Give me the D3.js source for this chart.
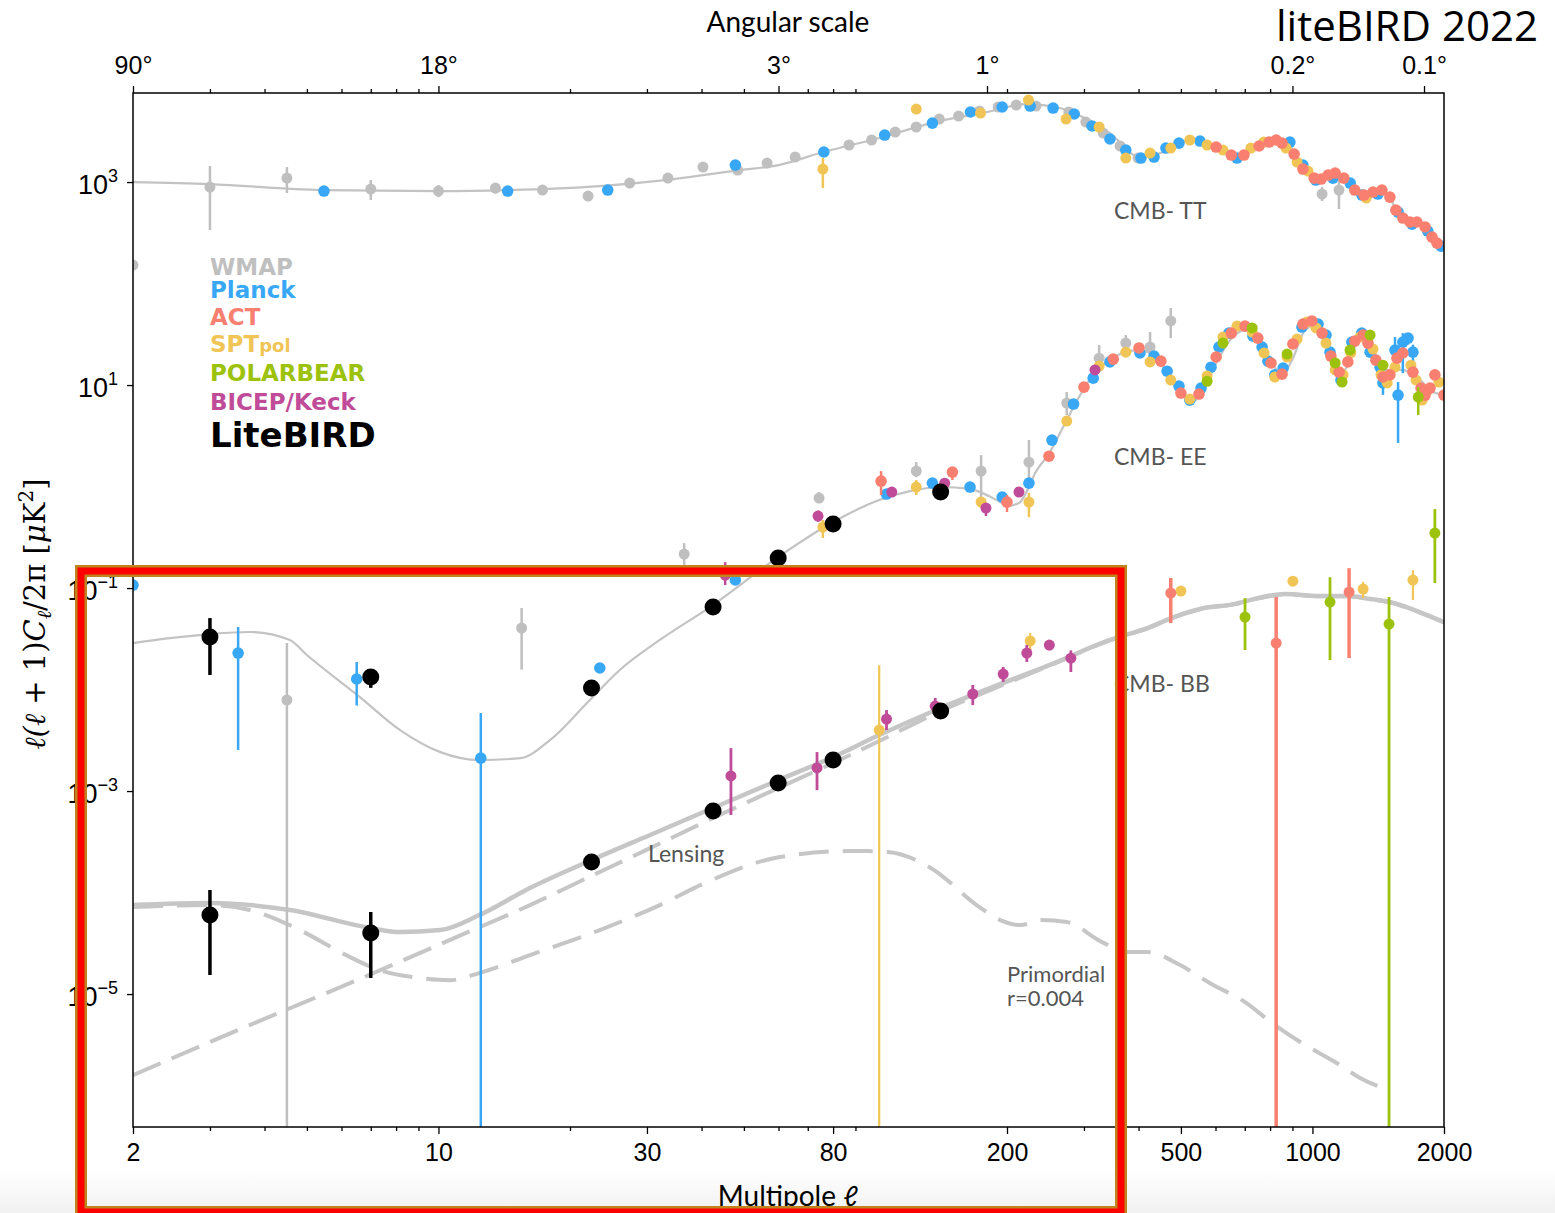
<!DOCTYPE html>
<html>
<head>
<meta charset="utf-8">
<script src="https://cdn.jsdelivr.net/npm/d3@7"></script>
<style>
body{margin:0;background:#fff}
svg{display:block}
</style>
</head>
<body>
<div id="chart"></div>
<script>
// ---- theory curves (multipole l, D_l in uK^2) ----
var tt_l=[2,3,5.4,10,14.4,23.4,33,49,60,76,102,137,180,222,264,301,344,403,460,524,600,672,760,830,880,908,951,1009,1047,1127,1180,1250,1312,1376,1430,1504,1552,1610,1672,1734,1810,1878,1928,2000];
var tt_D=[1000,955,834,815,834,913,1046,1313,1470,1975,2713,3900,4890,5870,5360,4270,3040,1763,2000,2590,2300,1845,2150,2590,2450,1900,1343,1094,1071,1227,1094,834,745,797,834,711,530,442,404,404,361,287,250,230];

var ee_l=[2,2.43,3,3.7,4.57,5,6.61,8.17,10.1,12.4,15.4,18,22.2,26,32.1,42.5,59.9,80,102,120,141,164,193,200,213,221,232,250,274,294,318,344,372,403,437,472,511,530,553,599,648,701,750,800,852,898,962,1014,1069,1157,1219,1285,1355,1465,1585,1718,1858,2000];
var ee_D=[0.0287,0.0321,0.0352,0.0369,0.0308,0.0219,0.00844,0.00399,0.00242,0.00202,0.00211,0.00318,0.00789,0.0156,0.0308,0.068,0.202,0.447,0.736,0.9,0.99,0.95,0.703,0.643,0.687,0.863,1.36,2.14,4.52,7.96,13.4,17.6,21.1,22.1,18.9,11.7,7.45,6.8,7.96,15.7,27.7,34.8,31.1,17.6,12.8,17.6,34.8,39.0,31.1,12.6,17.6,29.7,25.9,14.1,14.1,12.6,8.93,7.96];

var bb_l=[2,3,4.57,7,8.17,10.1,12.4,16.2,22.4,30.5,42.5,59.9,80,102,141,183,250,344,425,482,565,661,750,865,1035,1213,1355,1504,1734,2000];
var bb_D=[7.53e-5,7.89e-5,6.73e-5,4.47e-5,4.08e-5,4.27e-5,6.0e-5,1.11e-4,2.09e-4,3.69e-4,6.81e-4,1.28e-3,2.16e-3,3.56e-3,6.58e-3,0.01035,0.0174,0.0308,0.0413,0.0518,0.0635,0.0695,0.0796,0.0873,0.0834,0.0834,0.078,0.0728,0.0593,0.0462];

var lens_l=[2,3.7,6.27,10.6,16.2,22.4,30.5,42.5,59.9,80,102,141,183,250,344,425,482,565,661,750,865,1035,1213,1355,1504,1734,2000];
var lens_D=[1.59e-6,4.95e-6,1.28e-5,3.40e-5,7.53e-5,1.46e-4,2.74e-4,5.42e-4,1.07e-3,1.89e-3,3.11e-3,6.14e-3,9.89e-3,0.0172,0.0305,0.041,0.0515,0.063,0.069,0.079,0.0868,0.083,0.083,0.0776,0.0724,0.059,0.046];

var prim_l=[2,3,3.7,4.82,5.95,7.34,9.07,10.6,12.4,16.2,23.4,32.1,40.7,58.9,85.7,95.7,107,133,173,193,215,240,274,330,374,418,498,583,701,820,962,1127,1285,1490];
var prim_D=[7.19e-5,7.53e-5,6.73e-5,4.27e-5,2.60e-5,1.72e-5,1.44e-5,1.37e-5,1.61e-5,2.42e-5,4.27e-5,7.53e-5,1.24e-4,2.19e-4,2.56e-4,2.56e-4,2.51e-4,1.78e-4,7.19e-5,5.36e-5,4.79e-5,5.36e-5,5.12e-5,3.25e-5,2.60e-5,2.60e-5,1.93e-5,1.28e-5,8.34e-6,4.95e-6,3.15e-6,2.14e-6,1.49e-6,1.13e-6];

// ---- measurements [l, D, lo, hi] ----
var wmap_TT=[[3,893,336,1438],[4.5,1094,779,1405],[7,853,665,1046],[10,815,711,935],[13.5,873,770,977],[17.3,834],[22,728],[27.4,977],[33.5,1094],[40.3,1406],[48.4,1313],[56.5,1539],[65.5,1763],[87,2317],[98,2596],[111,3111],[124,3486],[140,4178],[155,4470],[173,5010],[191,5490],[210,5740],[233,5610],[277,4900],[303,3900],[332,3040],[363,2265],[399,1723],[1052,762,650,893],[1150,834,542,1283]];
var wmap_EE=[[2,152],[4.5,0.00789,1e-9,0.0287],[15.5,0.0404,0.0157,0.0637],[36.5,0.216,0.169,0.277],[74.3,0.771,0.687,0.883],[124,1.42,1.24,1.74],[174.5,1.42,0.703,2.04],[224.5,1.74,1.16,2.87],[274,6.65,5.06,8.53],[325,18.4,14.1,24.8],[374,25.9,21.1,31.1],[425,23.7,18.4,33.3],[474,42.8,29.0,57.4]];

var planck_TT=[[5.47,815],[14.4,815],[24.4,834],[47.8,1469],[76.2,1977],[105,2904],[135,3810],[165,4900],[195,5490],[226,5610],[255,5360],[285,4680],[313,3565],[344,2655],[374,2066],[405,1723],[434,1763],[462,2163],[495,2421],[553,2535],[672,1723],[888,2478],[951,1469],[1018,1047],[1114,1094],[1220,977],[1298,745],[1412,762],[1570,506],[1690,385],[1836,329],[1968,234]];
var planck_EE=[[2,0.107],[3.48,0.0229,0.00254,0.0413],[6.5,0.0127,0.00696,0.0187],[12.5,0.00211,1e-9,0.00586],[23.4,0.0163,0.015,0.0177],[47.8,0.12],[106,0.844],[135,1.08],[164.6,0.989],[195,0.789],[224.5,1.08],[253.5,2.87],[284,6.5],[315,11.7],[344,16.9],[403,20.7],[434,19.3],[465,13.7],[495,9.77],[524,7.11],[556,9.33],[586,15.0],[611,23.7],[644,32.5],[731,30.4],[767,23.7],[791,17.2],[820,12.6],[857,14.7],[946,37.3],[1030,39.9],[1074,31.1],[1097,21.1],[1162,11.2],[1231,26.5],[1297,32.5],[1355,21.1],[1428,15.0],[1450,10.5,8,13],[1545,22.1,16.5,29.7],[1570,7.96,2.69,10.7],[1610,26.5,13.1,32.5],[1655,29.0,25.0,32.5],[1698,21.1,17,25]];

var sptpol_TT=[[75.8,1343,873,1723],[124,5240],[174,4786],[224,6430],[273,4178],[325,3486],[374,1723],[425,1932],[474,2163],[524,2596],[574,2317],[624,2066],[723,2163],[774,2478],[870,2163],[922,1573],[977,1283],[1327,695]];
var sptpol_EE=[[75.8,0.399,0.311,0.468],[124,0.989,0.824,1.16],[174.5,0.703],[224.5,0.703,0.499,0.866],[274,4.42],[325,15.4],[374,21.1],[425,16.9],[474,11.2],[524,7.28],[574,12.3],[624,29.7],[672,38.1],[728,33.3],[775,20.7],[820,12.0],[875,18.9],[922,28.4],[971,41.8],[1019,36.5],[1074,25.9],[1127,14.1],[1175,12.6],[1224,20.7],[1285,29.7],[1376,22.6],[1435,12.6],[1483,10.5],[1545,15.0],[1680,15.7],[1726,11.2],[1783,7.11],[1838,8.93],[1946,10.7]];
var sptpol_BB=[[102,0.00399,1e-9,0.0174],[226,0.0301,0.0245,0.0361],[500,0.0933,0.085,0.1],[902,0.117,0.11,0.124],[1306,0.0977,0.0796,0.115],[1698,0.12,0.0762,0.15]];

var act_TT=[[602,2213],[652,1845],[697,1845],[755,2265],[796,2478],[826,2596],[852,2421],[908,1888],[951,1343],[1009,1094],[1047,1071],[1086,1172],[1127,1227],[1180,1094],[1250,834],[1312,745],[1376,797],[1442,834],[1504,711],[1552,530],[1610,442],[1672,404],[1734,404],[1810,361],[1878,287],[1928,250]];
var act_EE=[[103,1.13,0.824,1.42],[150,1.39,1.16,1.56],[200,0.703,0.561,0.824],[249.5,1.99],[300,9.55],[350,18.0],[401,23.2],[450,17.2],[500,8.34],[550,8.15],[602,18.9],[652,32.5],[701,38.1],[750,29.0],[804,16.5],[852,12.8],[902,25.4],[951,39.9],[997,42.8],[1052,32.5],[1102,19.3],[1151,13.4],[1205,16.9],[1250,27.1],[1306,31.1],[1340,25.9],[1397,17.6],[1450,12.0],[1504,12.6],[1561,18.4],[1610,20.7],[1698,13.4],[1772,9.33],[1811,7.96],[1858,9.33],[1906,12.6],[2000,7.96]];
var act_BB=[[474,0.0893,0.0452,0.126],[826,0.0287,1e-9,0.0815],[1213,0.0914,0.0204,0.157]];

var polarbear_EE=[[574,10.9],[624,25.9],[728,36.5],[875,20.2],[1127,16.5],[1169,10.7],[1219,22.1],[1355,31.1],[1450,15.7],[1746,7.62,5.06,9.55]];
var polarbear_BB=[[701,0.0518,0.0245,0.0796],[1097,0.0728,0.0195,0.128],[1497,0.0442,1e-9,0.0815],[1906,0.348,0.112,0.6]];

var bicep_EE=[[45.3,0.134,0.107,0.18],[73.9,0.512,0.45,0.58],[109,0.883],[144,1.08],[179,0.614,0.512,0.687],[213,0.883],[318,14.1]];
var bicep_BB=[[46.7,1.41e-3,5.81e-4,2.65e-3],[73.5,1.69e-3,1.02e-3,2.42e-3],[106,5.12e-3,3.99e-3,6.28e-3],[137,6.87e-3,5.61e-3,8.27e-3],[167,9.04e-3,7.03e-3,0.0111],[196,0.0142,0.0119,0.0167],[222,0.0229,0.0187,0.0275],[250,0.0274,0.0244,0.0308],[280,0.0204,0.0149,0.0243]];

var litebird_EE=[[3,0.0329,0.0139,0.0506],[7,0.0133,0.0104,0.0156],[22.4,0.01035],[42.5,0.065],[59.9,0.198],[80,0.427],[141,0.883]];
var litebird_BB=[[3,6.0e-5,1.54e-5,1.06e-4],[7,3.99e-5,1.44e-5,6.43e-5],[22.4,2.0e-4],[42.5,6.35e-4],[59.9,1.2e-3],[80,2.02e-3],[141,6.14e-3]];

// ---- ticks / labels ----
var x_major=[2,10,30,80,200,500,1000,2000];
var x_minor=[3,4,5,6,7,8,9,20,40,50,60,70,90,300,400,600,700,800,900];
var top_major=[2,10,60,180,900,1800];
var top_labels=["90°","18°","3°","1°","0.2°","0.1°"];
var top_minor=[3,4,5,6,7,8,9,20,30,40,50,70,80,90,200,300,400,500,600,700,800];
var y_major=[1e3,1e1,1e-1,1e-3,1e-5];
var y_exp=["3","1","\u22121","\u22123","\u22125"];

var legend_names=["WMAP","Planck","ACT","SPTpol","POLARBEAR","BICEP/Keck","LiteBIRD"];
var colors=["#bfbfbf","#38a8f6","#f98070","#f0c555","#9dc20e","#c04b98","#000000"];

var W=1555, H=1213;
var svg=d3.select("#chart").append("svg")
          .attr("width",W)
          .attr("height",H)
          .style("font-family","Lato, 'Open Sans', sans-serif");

var x=d3.scaleLog().domain([2,2000]).range([133,1444]);
var y=d3.scaleLog().domain([4.9e-7,7540]).range([1127,93]);

var defs=svg.append("defs");
defs.append("clipPath").attr("id","plotclip")
    .append("rect").attr("x",133).attr("y",93).attr("width",1311).attr("height",1034);
var grad=defs.append("linearGradient").attr("id","fade").attr("x1",0).attr("y1",0).attr("x2",0).attr("y2",1);
grad.append("stop").attr("offset","0").attr("stop-color","#ffffff");
grad.append("stop").attr("offset","1").attr("stop-color","#f1f1f1");

svg.append("rect").attr("x",0).attr("y",1170).attr("width",W).attr("height",43).attr("fill","url(#fade)");

var plot=svg.append("g").attr("clip-path","url(#plotclip)");

var line=d3.line()
           .x(d=>x(d[0]))
           .y(d=>y(d[1]))
           .curve(d3.curveMonotoneX);

// theory curves
plot.append("path").attr("d",line(d3.zip(tt_l,tt_D)))
    .attr("fill","none").attr("stroke","#c3c3c3").attr("stroke-width",2.2);
plot.append("path").attr("d",line(d3.zip(ee_l,ee_D)))
    .attr("fill","none").attr("stroke","#c3c3c3").attr("stroke-width",2.2);
plot.append("path").attr("d",line(d3.zip(prim_l,prim_D)))
    .attr("fill","none").attr("stroke","#c6c6c6").attr("stroke-width",4)
    .attr("stroke-dasharray","30,14");
plot.append("path").attr("d",line(d3.zip(lens_l,lens_D)))
    .attr("fill","none").attr("stroke","#c6c6c6").attr("stroke-width",4)
    .attr("stroke-dasharray","30,12");
plot.append("path").attr("d",line(d3.zip(bb_l,bb_D)))
    .attr("fill","none").attr("stroke","#c6c6c6").attr("stroke-width",4.5);

// data points with error bars
function drawSet(data,color,r,sw){
   var g=plot.append("g");
   g.selectAll("line")
    .data(data.filter(d=>d.length>2))
    .enter().append("line")
    .attr("x1",d=>x(d[0])).attr("x2",d=>x(d[0]))
    .attr("y1",d=>Math.min(y(d[2]),1200)).attr("y2",d=>y(d[3]))
    .attr("stroke",color).attr("stroke-width",sw);
   g.selectAll("circle")
    .data(data)
    .enter().append("circle")
    .attr("cx",d=>x(d[0])).attr("cy",d=>y(d[1]))
    .attr("r",r).attr("fill",color);
}

drawSet(wmap_TT,colors[0],5.5,2.5);
drawSet(wmap_EE,colors[0],5.5,2.5);
drawSet(planck_TT,colors[1],5.8,2.5);
drawSet(planck_EE,colors[1],5.8,2.5);
drawSet(sptpol_TT,colors[3],5.5,2.5);
drawSet(sptpol_EE,colors[3],5.5,2.5);
drawSet(sptpol_BB,colors[3],5.5,2.2);
drawSet(act_TT,colors[2],5.8,2.5);
drawSet(act_EE,colors[2],5.8,2.5);
drawSet(act_BB,colors[2],5.5,3.5);
drawSet(polarbear_EE,colors[4],5.5,2.5);
drawSet(polarbear_BB,colors[4],5.5,2.8);
drawSet(bicep_EE,colors[5],5.5,2.5);
drawSet(bicep_BB,colors[5],5.5,2.8);
drawSet(litebird_EE,colors[6],8.5,3.5);
drawSet(litebird_BB,colors[6],8.5,3.5);

// frame
svg.append("rect").attr("x",133).attr("y",93).attr("width",1311).attr("height",1034)
   .attr("fill","none").attr("stroke","#000").attr("stroke-width",1.5);

// bottom axis
var xb=svg.append("g").attr("transform","translate(0,1127)")
          .call(d3.axisBottom(x).tickValues(x_major).tickFormat(d3.format("d")).tickSize(7).tickPadding(9));
xb.select(".domain").remove();
svg.append("g").attr("transform","translate(0,1127)")
   .call(d3.axisBottom(x).tickValues(x_minor).tickFormat("").tickSize(4))
   .select(".domain").remove();

// top axis (angular scale)
var xt=svg.append("g").attr("transform","translate(0,93)")
          .call(d3.axisTop(x).tickValues(top_major).tickFormat((d,i)=>top_labels[i]).tickSize(7).tickPadding(12));
xt.select(".domain").remove();
svg.append("g").attr("transform","translate(0,93)")
   .call(d3.axisTop(x).tickValues(top_minor).tickFormat("").tickSize(4))
   .select(".domain").remove();

// left axis
var yl=svg.append("g").attr("transform","translate(133,0)")
          .call(d3.axisLeft(y).tickValues(y_major).tickFormat("").tickSize(6));
yl.select(".domain").remove();
yl.selectAll(".tick").append("text")
   .attr("x",-15).attr("y",11)
   .attr("text-anchor","end")
   .attr("fill","#000")
   .style("font-size","27px")
   .each(function(d,i){
      var t=d3.select(this);
      t.append("tspan").text("10");
      t.append("tspan").attr("dy",-12).style("font-size","18px").text(y_exp[i]);
   });

svg.selectAll(".tick line").attr("stroke","#000").attr("stroke-width",1.3);
xb.selectAll("text").style("font-size","25px").attr("fill","#000");
xt.selectAll("text").style("font-size","25px").attr("fill","#000");

// titles
svg.append("text").attr("x",788).attr("y",32).attr("text-anchor","middle")
   .style("font-size","28px").text("Angular scale");
svg.append("text").attr("x",1538).attr("y",41).attr("text-anchor","end")
   .style("font-size","42px").style("font-family","'Open Sans', sans-serif").text("liteBIRD 2022");
svg.append("text").attr("x",788).attr("y",1206).attr("text-anchor","middle")
   .style("font-size","28px").text("Multipole \u2113");

var ylab=svg.append("text")
   .attr("transform","translate(45,614) rotate(-90)")
   .attr("text-anchor","middle")
   .style("font-family","'DejaVu Serif', serif")
   .style("font-size","29px");
ylab.append("tspan").style("font-style","italic").text("\u2113(\u2113");
ylab.append("tspan").text(" + 1)");
ylab.append("tspan").style("font-style","italic").text("C");
ylab.append("tspan").attr("dy",6).style("font-size","20px").style("font-style","italic").text("\u2113");
ylab.append("tspan").attr("dy",-6).text("/2\u03c0 [");
ylab.append("tspan").style("font-style","italic").text("\u03bc");
ylab.append("tspan").text("K");
ylab.append("tspan").attr("dy",-12).style("font-size","20px").text("2");
ylab.append("tspan").attr("dy",12).text("]");

// curve annotations
var notes=[["CMB- TT",1114,219,23],["CMB- EE",1114,465,23],["CMB- BB",1114,692,23],["Lensing",648,862,23],["Primordial",1007,982,22],["r=0.004",1007,1006,22]];
svg.selectAll(".note").data(notes).enter().append("text")
   .attr("class","note")
   .attr("x",d=>d[1]).attr("y",d=>d[2])
   .attr("fill","#555")
   .style("font-size",d=>d[3]+"px")
   .text(d=>d[0]);

// legend
var leg_y=[275,298,325,352,381,410,447];
var leg=svg.append("g").style("font-weight","bold").style("font-family","'DejaVu Sans', sans-serif");
legend_names.forEach(function(n,i){
   var t=leg.append("text").attr("x",210).attr("y",leg_y[i]).attr("fill",colors[i])
            .style("font-size",i==6?"34px":"23px");
   if(n=="SPTpol"){
      t.append("tspan").text("SPT");
      t.append("tspan").style("font-size","18px").text("pol");
   } else t.text(n);
});

// highlight box
svg.append("rect").attr("x",81).attr("y",571).attr("width",1040).attr("height",641)
   .attr("fill","none").attr("stroke","#c0841c").attr("stroke-width",12);
svg.append("rect").attr("x",81).attr("y",571).attr("width",1040).attr("height",641)
   .attr("fill","none").attr("stroke","#ff0000").attr("stroke-width",7);
</script>
</body>
</html>
